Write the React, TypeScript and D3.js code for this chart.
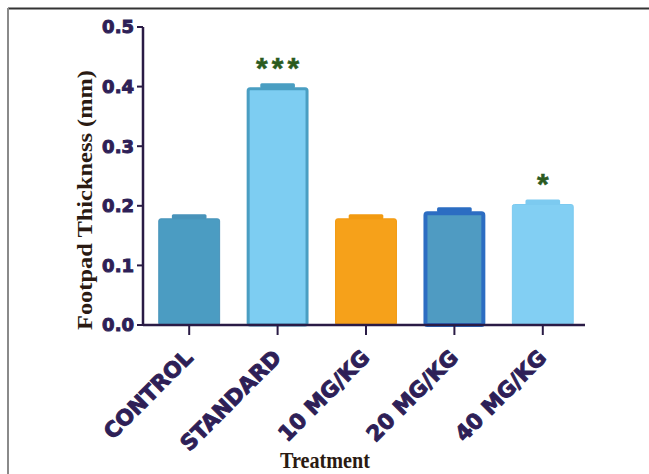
import React from "react";
import * as d3 from "d3";

// Footpad thickness by treatment group (mean ± SEM, mm)
const groups = ["CONTROL", "STANDARD", "10 MG/KG", "20 MG/KG", "40 MG/KG"];
const means = [0.179, 0.399, 0.179, 0.191, 0.203];
const sems = [0.005, 0.005, 0.005, 0.005, 0.006];
const significance = ["", "***", "", "", "*"];
const yTicks = [0.0, 0.1, 0.2, 0.3, 0.4, 0.5];

const fills = ["#4b9cc2", "#7dcdf2", "#f6a11a", "#4f9bc2", "#82cff3"];
const strokes = ["#4893ba", "#4a9ec2", "#f29a10", "#2c6dc2", "#7ccaf0"];
const strokeWidths = [1, 3, 1, 4, 1];

const W = 649;
const H = 474;
const AXIS_X = 143;
const AXIS_Y = 325;
const AXIS_TOP = 27;
const AXIS_RIGHT = 585;

const axisColor = "#2a1b45";
const tickLabelColor = "#2e1f57";
const titleColor = "#2a1a12";
const starColor = "#2b5b1f";

export default function App() {
  const y = d3.scaleLinear().domain([0, 0.5]).range([AXIS_Y, AXIS_TOP]);
  const x = d3
    .scaleBand<string>()
    .domain(groups)
    .range([AXIS_X + 2, AXIS_RIGHT + 2])
    .paddingInner(0.3)
    .paddingOuter(0.15);
  const bw = x.bandwidth();
  const capW = bw * 0.56;

  return (
    <svg
      width={W}
      height={H}
      style={{ position: "absolute", left: 0, top: 0, background: "#fff" }}
    >
      {/* frame */}
      <line x1={8} x2={W} y1={8.5} y2={8.5} stroke="#333" strokeWidth={2} />
      <line x1={8} x2={8} y1={8} y2={H} stroke="#8a8a8a" strokeWidth={2} />

      {/* bars with error caps */}
      {groups.map((g, i) => {
        const x0 = x(g)!;
        const cx = x0 + bw / 2;
        const sw = strokeWidths[i];
        const top = y(means[i]);
        const errTop = y(means[i] + sems[i]);
        return (
          <g key={g}>
            <rect
              x={cx - capW / 2}
              y={errTop - 1}
              width={capW}
              height={top - errTop + 2}
              rx={1.5}
              fill={strokes[i]}
            />
            <rect
              x={x0 + sw / 2}
              y={top + sw / 2}
              width={bw - sw}
              height={AXIS_Y - top - sw / 2}
              rx={2}
              fill={fills[i]}
              stroke={strokes[i]}
              strokeWidth={sw}
            />
            {significance[i] && (
              <text
                x={cx}
                y={errTop - 6}
                textAnchor="middle"
                fontFamily="Liberation Sans, Arial, sans-serif"
                fontWeight="bold"
                fontSize={30}
                letterSpacing={4}
                dx={2}
                fill={starColor}
                stroke={starColor}
                strokeWidth={0.5}
              >
                {significance[i]}
              </text>
            )}
          </g>
        );
      })}

      {/* y axis */}
      <line
        x1={AXIS_X}
        x2={AXIS_X}
        y1={AXIS_TOP}
        y2={AXIS_Y}
        stroke={axisColor}
        strokeWidth={2.5}
      />
      {yTicks.map((t) => (
        <g key={t}>
          <line
            x1={AXIS_X - 6}
            x2={AXIS_X}
            y1={y(t)}
            y2={y(t)}
            stroke={axisColor}
            strokeWidth={2}
          />
          <text
            x={AXIS_X - 9}
            y={y(t)}
            dy="0.36em"
            textAnchor="end"
            fontFamily="DejaVu Sans, sans-serif"
            fontWeight="bold"
            fontSize={18}
            fill={tickLabelColor}
            stroke={tickLabelColor}
            strokeWidth={1}
          >
            {t.toFixed(1)}
          </text>
        </g>
      ))}

      {/* x axis */}
      <line
        x1={AXIS_X}
        x2={AXIS_RIGHT}
        y1={AXIS_Y}
        y2={AXIS_Y}
        stroke={axisColor}
        strokeWidth={2.5}
      />
      {groups.map((g) => {
        const cx = x(g)! + bw / 2;
        const lx = cx + 5;
        const ly = 359;
        return (
          <g key={g}>
            <line
              x1={cx}
              x2={cx}
              y1={AXIS_Y}
              y2={AXIS_Y + 10}
              stroke={axisColor}
              strokeWidth={2}
            />
            <text
              x={lx}
              y={ly}
              textAnchor="end"
              transform={`rotate(-45, ${lx}, ${ly})`}
              fontFamily="DejaVu Sans, sans-serif"
              fontWeight="bold"
              fontSize={21.5}
              fill={tickLabelColor}
              stroke={tickLabelColor}
              strokeWidth={1}
            >
              {g}
            </text>
          </g>
        );
      })}

      {/* axis titles */}
      <text
        x={325}
        y={468}
        textAnchor="middle"
        fontFamily="Liberation Serif, Times New Roman, serif"
        fontWeight="bold"
        fontSize={23}
        textLength={90}
        lengthAdjust="spacingAndGlyphs"
        fill={titleColor}
      >
        Treatment
      </text>
      <text
        transform="translate(92, 200) rotate(-90)"
        textAnchor="middle"
        fontFamily="Liberation Serif, Times New Roman, serif"
        fontWeight="bold"
        fontSize={22}
        textLength={260}
        lengthAdjust="spacingAndGlyphs"
        fill={titleColor}
      >
        Footpad Thickness (mm)
      </text>
    </svg>
  );
}
